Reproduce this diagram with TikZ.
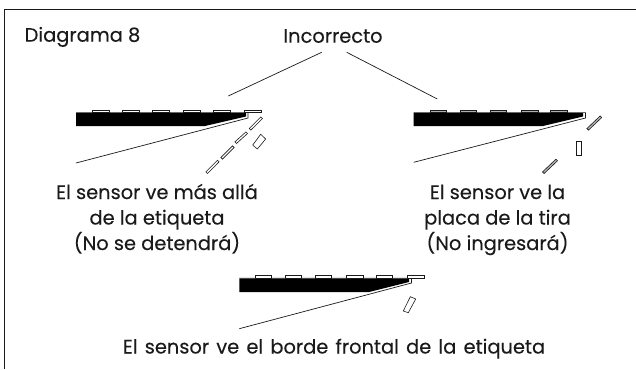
\documentclass[tikz,border=0pt]{standalone}
\usepackage{fontspec}
\setmainfont[FakeBold=0.12]{Poppins}
\definecolor{ink}{HTML}{1A1A1A}
\definecolor{tabgray}{HTML}{B0B0B0}
\tikzset{
  lbl/.style={font=\fontsize{19.4}{19.4}\selectfont, text=ink, inner sep=0pt, anchor=base},
  thin line/.style={draw=ink, line width=0.7pt},
  slit/.style={draw=ink, fill=white, line width=0.6pt},
  slitg/.style={draw=ink, fill=tabgray, line width=0.6pt},
}
\begin{document}
\begin{tikzpicture}[x=1pt,y=-1pt]
\useasboundingbox (0,0) rectangle (636,369);
\fill[white] (0,0) rectangle (636,369);
\draw[draw=ink, line width=0.9pt] (4.5,369) -- (4.5,9.5) -- (636,9.5);

\node[lbl] (t0) at (82.5,41.7) {Diagrama 8};
\node[lbl] (t1) at (333,42.7) {Incorrecto};
\coordinate (a0) at (321.7,52.3);
\coordinate (a1) at (228.3,96);
\coordinate (b0) at (346.7,52.3);
\coordinate (b1) at (437.3,99);
\draw[thin line] (a0) -- (a1);
\draw[thin line] (b0) -- (b1);

% panel 1
\fill[black] (76,113) -- (246,113) -- (246,116.5) -- (205,126) -- (76,126) -- cycle;
\draw[thin line] (76,112.6) -- (248,112.6) -- (248,118) -- (76,163);
\foreach \t in {92,122,152,183,213,244}
  \draw[draw=ink, fill=white, line width=0.5pt] (\t,110) rectangle ++(17,2.6);
\draw[slit] (205.9,171.9) -- (217.5,160.2) -- (219.1,161.8) -- (207.5,173.5) -- cycle;
\draw[slit] (220.9,157.5) -- (232.5,145.9) -- (234.1,147.5) -- (222.5,159.1) -- cycle;
\draw[slit] (234.9,141.9) -- (245.9,131.9) -- (247.5,133.5) -- (236.5,143.5) -- cycle;
\draw[slit] (249.2,128.5) -- (260.9,116.9) -- (262.5,118.5) -- (250.8,130.1) -- cycle;
\draw[draw=ink, fill=white, line width=0.6pt] (252.7,145) -- (257.3,149) -- (265.7,139) -- (260.7,134.3) -- cycle;
\node[lbl] (p1a) at (157,199) {El sensor ve más allá};
\node[lbl] (p1b) at (157,224.5) {de la etiqueta};
\node[lbl] (p1c) at (157,250) {(No se detendrá)};

% panel 2
\fill[black] (413.7,113) -- (583,113) -- (583,116.5) -- (543,126) -- (413.7,126) -- cycle;
\draw[thin line] (413.7,112.6) -- (585.5,112.6) -- (585.5,118) -- (413.7,162.3);
\foreach \t in {430,460,490,521.3,550.7}
  \draw[draw=ink, fill=tabgray, line width=0.5pt] (\t,109.8) rectangle ++(16.5,2.8);
\draw[slitg] (586.9,128.5) -- (600.2,115.9) -- (601.8,117.5) -- (588.5,130.1) -- cycle;
\draw[slitg] (542.5,171.9) -- (555.9,159.2) -- (557.5,160.8) -- (544.1,173.5) -- cycle;
\draw[draw=ink, fill=white, line width=0.6pt] (575.8,141) rectangle (581.2,155.7);
\node[lbl] (p2a) at (497.5,199) {El sensor ve la};
\node[lbl] (p2b) at (497.5,224.5) {placa de la tira};
\node[lbl] (p2c) at (497.5,250) {(No ingresará)};

% panel 3
\fill[black] (239.3,278.5) -- (409,278.5) -- (409,282) -- (369,292) -- (239.3,292) -- cycle;
\draw[thin line] (239.3,278.2) -- (411.5,278.2) -- (411.5,283) -- (239.3,328.7);
\foreach \t in {255,285,315,346.3,376,407.3}
  \draw[draw=ink, fill=white, line width=0.5pt] (\t,275.5) rectangle ++(16.5,2.7);
\draw[draw=ink, fill=white, line width=0.6pt] (403.3,311) -- (408.3,312.7) -- (415.7,299) -- (410.3,296.7) -- cycle;
\node[lbl] (p3) at (334,353.5) {\spaceskip=7.2pt El sensor ve el borde frontal de la etiqueta};
\end{tikzpicture}
\end{document}
